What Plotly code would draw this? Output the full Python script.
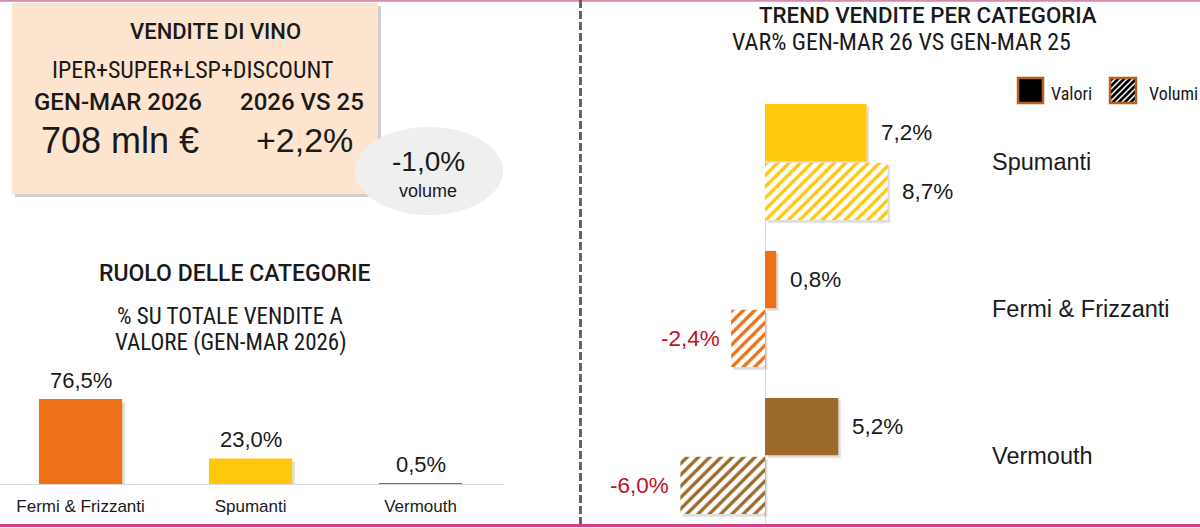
import plotly.graph_objects as go

# ---------------- data ----------------
share_categories = ["Fermi & Frizzanti", "Spumanti", "Vermouth"]
share_values = [76.5, 23.0, 0.5]
share_labels = ["76,5%", "23,0%", "0,5%"]

trend_categories = ["Spumanti", "Fermi & Frizzanti", "Vermouth"]
trend_valori = [7.2, 0.8, 5.2]
trend_volumi = [8.7, -2.4, -6.0]
trend_valori_labels = ["7,2%", "0,8%", "5,2%"]
trend_volumi_labels = ["8,7%", "-2,4%", "-6,0%"]

kpi_value = "708 mln €"
kpi_var = "+2,2%"
kpi_volume = "-1,0%"

# ---------------- style ----------------
W, H = 1200, 528
COL = {"Fermi & Frizzanti": "#EC7117", "Spumanti": "#FFC80B", "Vermouth": "#9C6A2B"}
TXT = "#1a1a1a"
RED = "#C0111F"
SHADOW = "rgba(0,0,0,0.13)"
COND = "Roboto Condensed, Liberation Sans Narrow, sans-serif"
TITLE = "Roboto, Liberation Sans, sans-serif"
SANS = "Liberation Sans, Arial, sans-serif"


def px(x):
    return x / W


def py(y):
    return 1 - y / H


fig = go.Figure()

# left bar chart (soft shadow + bars)
fig.add_trace(go.Bar(
    x=share_categories, y=[max(v - 1.5, 0) for v in share_values], width=0.49, offset=-0.245 + 0.016,
    base=-1.5, marker=dict(color=SHADOW, line=dict(width=0)),
    xaxis="x", yaxis="y", showlegend=False, hoverinfo="skip",
))
fig.add_trace(go.Bar(
    x=share_categories, y=share_values, width=0.49, offset=-0.245,
    marker=dict(color=[COL[c] for c in share_categories], line=dict(width=0)),
    xaxis="x", yaxis="y", showlegend=False, hoverinfo="skip",
))

# right chart (soft shadows + bars)
for vals, off in ((trend_valori, -0.395), (trend_volumi, 0.005)):
    fig.add_trace(go.Bar(
        y=trend_categories, x=vals, orientation="h", base=0.17,
        width=0.39, offset=off + 0.018,
        marker=dict(color=SHADOW, line=dict(width=0)),
        xaxis="x2", yaxis="y2", showlegend=False, hoverinfo="skip",
    ))
fig.add_trace(go.Bar(
    y=trend_categories, x=trend_valori, orientation="h",
    width=0.39, offset=-0.395,
    marker=dict(color=[COL[c] for c in trend_categories], line=dict(width=0)),
    xaxis="x2", yaxis="y2", showlegend=False, hoverinfo="skip",
))
fig.add_trace(go.Bar(
    y=trend_categories, x=trend_volumi, orientation="h",
    width=0.39, offset=0.005,
    marker=dict(color="white", line=dict(width=0),
                pattern=dict(shape="/", fgcolor=[COL[c] for c in trend_categories],
                             bgcolor="white", size=8, solidity=0.42, fillmode="replace")),
    xaxis="x2", yaxis="y2", showlegend=False, hoverinfo="skip",
))

ann = []
# left value labels
for c, v, t in zip(share_categories, share_values, share_labels):
    ann.append(dict(x=c, y=v, xref="x", yref="y", text=t, showarrow=False,
                    yanchor="bottom", yshift=4, font=dict(family=SANS, size=22, color=TXT)))
# right value labels
for i, (v, t) in enumerate(zip(trend_valori, trend_valori_labels)):
    ann.append(dict(x=v, y=i - 0.2, xref="x2", yref="y2", text=t, showarrow=False,
                    xanchor="left" if v >= 0 else "right", xshift=12 if v >= 0 else -9,
                    font=dict(family=SANS, size=22.5, color=TXT if v >= 0 else RED)))
for i, (v, t) in enumerate(zip(trend_volumi, trend_volumi_labels)):
    ann.append(dict(x=v, y=i + 0.2, xref="x2", yref="y2", text=t, showarrow=False,
                    xanchor="left" if v >= 0 else "right", xshift=12 if v >= 0 else -9,
                    font=dict(family=SANS, size=22.5, color=TXT if v >= 0 else RED)))


def ptext(x, y, text, size, family=COND, weight="normal", color=TXT, xanchor="center"):
    ann.append(dict(x=px(x), y=py(y), xref="paper", yref="paper", text=text, showarrow=False,
                    xanchor=xanchor, yanchor="middle",
                    font=dict(family=family, size=size, color=color, weight=weight)))


# KPI box texts
ptext(215, 31, "VENDITE DI VINO", 22, family=TITLE, weight=500)
ptext(192, 70, "IPER+SUPER+LSP+DISCOUNT", 24)
ptext(118, 102, "GEN-MAR 2026", 24, family=TITLE, weight=500)
ptext(302, 102, "2026 VS 25", 24, family=TITLE, weight=500)
ptext(120, 140, kpi_value, 36, family=SANS)
ptext(304, 140, kpi_var, 34, family=SANS)
ptext(428, 161, kpi_volume, 28, family=SANS)
ptext(428, 191, "volume", 18, family=SANS)

# left chart titles
ptext(235, 273, "RUOLO DELLE CATEGORIE", 23, family=TITLE, weight=500)
ptext(230, 316, "% SU TOTALE VENDITE A", 23)
ptext(231, 342, "VALORE (GEN-MAR 2026)", 23)

# right chart titles
ptext(928, 15, "TREND VENDITE PER CATEGORIA", 22.3, family=TITLE, weight=500)
ptext(901, 42, "VAR% GEN-MAR 26 VS GEN-MAR 25", 24)

# legend texts
ptext(1049, 93, "Valori", 18, xanchor="left")
ptext(1147, 93, "Volumi", 18, xanchor="left")

shapes = []
# borders
shapes.append(dict(type="line", xref="paper", yref="paper", x0=0, x1=1, y0=py(0.8), y1=py(0.8),
                   line=dict(color="#D98AAB", width=2)))
shapes.append(dict(type="line", xref="paper", yref="paper", x0=0, x1=1, y0=py(525.5), y1=py(525.5),
                   line=dict(color="#D4407E", width=3)))
shapes.append(dict(type="line", xref="paper", yref="paper", x0=px(580.5), x1=px(580.5), y0=py(0), y1=py(524),
                   line=dict(color="#5F656B", width=3, dash="8px,3px")))
# KPI box with shadow
shapes.append(dict(type="rect", xref="paper", yref="paper", x0=px(15), x1=px(381), y0=py(6), y1=py(197),
                   fillcolor="#CFCFCF", line=dict(width=0), layer="below"))
shapes.append(dict(type="rect", xref="paper", yref="paper", x0=px(12), x1=px(378), y0=py(3), y1=py(194),
                   fillcolor="#FCE4CF", line=dict(width=0), layer="below"))
# bubble
shapes.append(dict(type="circle", xref="paper", yref="paper", x0=px(355), x1=px(503), y0=py(127), y1=py(215),
                   fillcolor="#EFEFEF", line=dict(width=0), layer="below"))

# legend swatches
sq_brown = "#B5601F"
shapes.append(dict(type="rect", xref="paper", yref="paper", x0=px(1018), x1=px(1043), y0=py(78), y1=py(103),
                   fillcolor="black", line=dict(color=sq_brown, width=2.5)))
hx0, hx1, hy0, hy1 = 1110, 1136, 78, 103
shapes.append(dict(type="rect", xref="paper", yref="paper", x0=px(hx0), x1=px(hx1), y0=py(hy0), y1=py(hy1),
                   fillcolor="white", line=dict(width=0)))
c = hx0 + hy0 + 3
while c < hx1 + hy1:
    xa, xb = max(hx0, c - hy1), min(hx1, c - hy0)
    if xb > xa:
        shapes.append(dict(type="line", xref="paper", yref="paper",
                           x0=px(xa), y0=py(c - xa), x1=px(xb), y1=py(c - xb),
                           line=dict(color="black", width=2.6)))
    c += 6
shapes.append(dict(type="rect", xref="paper", yref="paper", x0=px(hx0), x1=px(hx1), y0=py(hy0), y1=py(hy1),
                   fillcolor="rgba(0,0,0,0)", line=dict(color=sq_brown, width=2.5)))

fig.update_layout(
    width=W, height=H,
    margin=dict(l=0, r=0, t=0, b=0),
    paper_bgcolor="white", plot_bgcolor="rgba(0,0,0,0)",
    barmode="overlay",
    showlegend=False,
    annotations=ann,
    shapes=shapes,
    xaxis=dict(domain=[0, 0.42], range=[-0.474, 2.491], type="category",
               categoryorder="array", categoryarray=share_categories,
               showline=True, linecolor="#D9D9D9", linewidth=1, ticks="",
               showgrid=False, zeroline=False, ticklabelstandoff=7,
               tickfont=dict(family=SANS, size=17, color=TXT), anchor="y", fixedrange=True),
    yaxis=dict(domain=[py(484), py(373)], range=[0, 100], visible=False, anchor="x", fixedrange=True),
    xaxis2=dict(domain=[px(600), px(985)], range=[-11.70, 15.60], showticklabels=False, ticks="",
                showgrid=False, zeroline=True, zerolinecolor="#D9D9D9", zerolinewidth=1,
                anchor="y2", fixedrange=True),
    yaxis2=dict(domain=[py(524), py(103)], type="category", categoryorder="array",
                categoryarray=trend_categories, range=[2.463, -0.401], side="right",
                ticks="", showgrid=False, showline=False, zeroline=False, ticklabelstandoff=6,
                tickfont=dict(family=SANS, size=23.5, color=TXT), anchor="x2", fixedrange=True),
)

fig.write_html("out.html")
